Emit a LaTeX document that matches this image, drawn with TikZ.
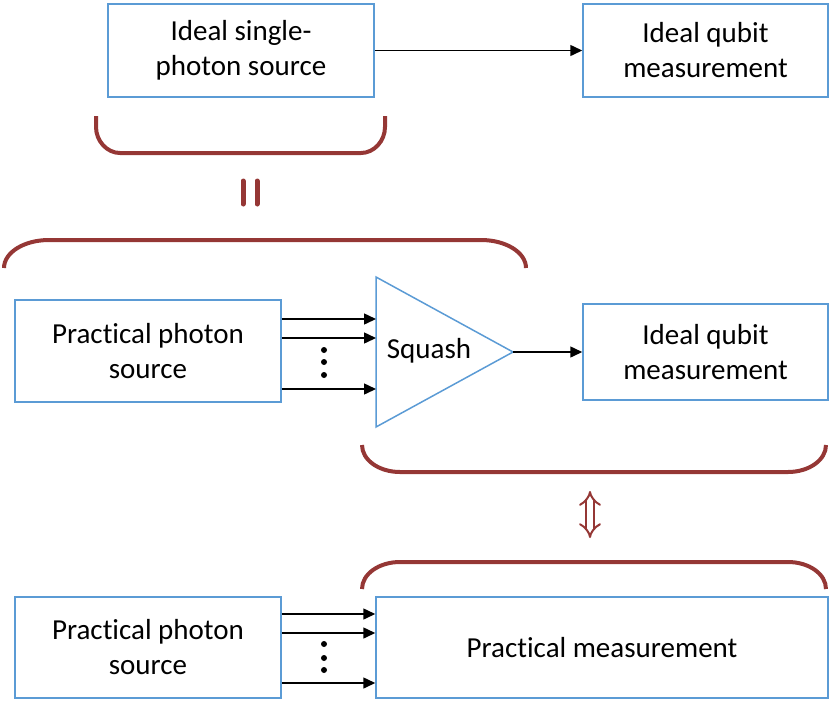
\documentclass[tikz,border=0pt]{standalone}
\usepackage{fontspec}
\setmainfont{Carlito}[Ligatures=NoCommon]
\usetikzlibrary{arrows.meta}
\definecolor{boxblue}{RGB}{91,155,213}
\definecolor{bracered}{RGB}{149,55,53}

\begin{document}
\begin{tikzpicture}[x=1pt,y=-1pt,
    box/.style={draw=boxblue,line width=1.5pt,align=center,inner sep=0pt,font=\fontsize{29}{35}\selectfont},
    arr/.style={line width=1.5pt,-{Triangle[length=12pt,width=11pt]}},
    brace/.style={draw=bracered,line width=4pt},
    dot/.style={circle,fill=black,minimum size=6pt,inner sep=0pt}]

\useasboundingbox (0,0) rectangle (830,702);

% top row
\node[box,minimum width=266pt,minimum height=93pt] (src1) at (241,50.5) {Ideal single-\\photon source};
\node[box,minimum width=245pt,minimum height=93pt] (meas1) at (705.5,50.5) {Ideal qubit\\measurement};
\draw[arr] (src1) -- (meas1);

\draw[brace] (96,116) -- (96,127) .. controls (96,141) and (107,153) .. (120,153)
  -- (361,153) .. controls (374,153) and (385,141) .. (385,127) -- (385,116);
\draw[brace,line width=5pt,line cap=round] (243,181) -- (243,204);
\draw[brace,line width=5pt,line cap=round] (257,181) -- (257,204);

% middle row
\draw[brace] (4,268) .. controls (4,252.5) and (24,240) .. (49,240)
  -- (481,240) .. controls (506,240) and (526,252.5) .. (526,268);

\node[box,minimum width=266pt,minimum height=102pt] (src2) at (148,351) {Practical photon\\source};
\coordinate (tip) at (513,352);
\draw[draw=boxblue,line width=1.5pt] (376,277) -- (tip) -- (376,427) -- cycle;
\node[font=\fontsize{29}{35}\selectfont] (sq) at (429,351) {Squash};
\node[box,minimum width=245pt,minimum height=96pt] (meas2) at (705.5,352) {Ideal qubit\\measurement};

\coordinate (a1) at (376,319);
\coordinate (a2) at (376,338);
\coordinate (a3) at (376,389);
\draw[arr] (src2.east |- a1) -- (a1);
\draw[arr] (src2.east |- a2) -- (a2);
\draw[arr] (src2.east |- a3) -- (a3);
\node[dot] (d1) at (324,350) {};
\node[dot] (d2) at (324,362) {};
\node[dot] (d3) at (324,375) {};
\draw[arr] (tip) -- (meas2.west |- tip);

\draw[brace] (362,445) .. controls (362,460) and (379,472) .. (400,472)
  -- (788,472) .. controls (809,472) and (826,460) .. (826,445);

\coordinate (up) at (590,491);
\coordinate (down) at (590,538);
\draw[bracered,line width=2pt,double distance=5.5pt,{Implies[length=12pt,width=24pt]}-{Implies[length=12pt,width=24pt]}] (up) -- (down);

\draw[brace] (362,589) .. controls (362,574) and (379,562) .. (400,562)
  -- (788,562) .. controls (809,562) and (826,574) .. (826,589);

% bottom row
\node[box,minimum width=266pt,minimum height=101pt] (src3) at (148,647.5) {Practical photon\\source};
\node[box,minimum width=452pt,minimum height=101pt] (meas3) at (602,647.5) {Practical measurement};

\draw[arr] (src3.east |- 0,614) -- (meas3.west |- 0,614);
\draw[arr] (src3.east |- 0,633) -- (meas3.west |- 0,633);
\draw[arr] (src3.east |- 0,683) -- (meas3.west |- 0,683);
\node[dot] (d4) at (324,644) {};
\node[dot] (d5) at (324,658) {};
\node[dot] (d6) at (324,670) {};
\end{tikzpicture}
\end{document}
